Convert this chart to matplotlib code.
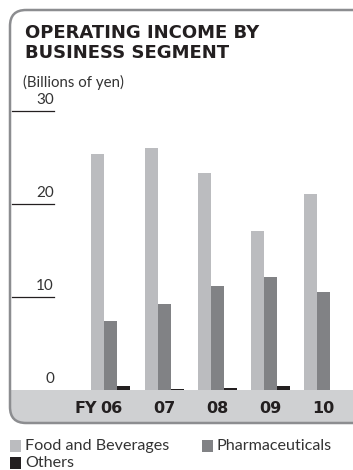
import numpy as np
import matplotlib.pyplot as plt
from matplotlib.patches import FancyBboxPatch, Rectangle

# Operating income by business segment (billions of yen)
anios = ["06", "07", "08", "09", "10"]
alimentos = [25.4, 26.0, 23.3, 17.1, 21.1]
farmaceuticos = [7.4, 9.3, 11.2, 12.1, 10.5]
otros = [0.4, 0.1, 0.2, 0.4, 0.05]
ticksY = [10, 20, 30]

colAlimentos = "#bbbcbf"
colFarma = "#818285"
colOtros = "#231f20"
colBanda = "#cfd0d2"
colMarco = "#8c8d90"
fuenteLigera = "Lato"

W, H = 353, 470
fig = plt.figure(figsize=(W / 100, H / 100), dpi=100)

# fondo en coordenadas de pixel: marco redondeado y banda inferior
fondo = fig.add_axes([0, 0, 1, 1])
fondo.set_xlim(0, W)
fondo.set_ylim(H, 0)
fondo.axis("off")
fondo.add_patch(FancyBboxPatch((10, 330), 400, 93, boxstyle="round,pad=0,rounding_size=16",
                               facecolor=colBanda, edgecolor="none", zorder=1))
fondo.add_patch(Rectangle((10, 10), 400, 380, facecolor="white", edgecolor="none", zorder=2))
fondo.add_patch(FancyBboxPatch((10, 10), 400, 413, boxstyle="round,pad=0,rounding_size=16",
                               facecolor="none", edgecolor=colMarco, linewidth=1.8, zorder=3))

fondo.text(25, 33, "OPERATING INCOME BY", fontsize=13, fontweight="bold", color="#231f20",
           va="center", ha="left", zorder=4)
fondo.text(25, 53, "BUSINESS SEGMENT", fontsize=13, fontweight="bold", color="#231f20",
           va="center", ha="left", zorder=4)
fondo.text(23, 82, "(Billions of yen)", fontsize=10.8, family=fuenteLigera, color="#333333",
           va="center", ha="left", zorder=4)

# grafico de barras
ax = fig.add_axes([12 / W, (H - 390) / H, 341 / W, (390 - 111) / H])
ax.patch.set_alpha(0)
for s in ax.spines.values():
    s.set_visible(False)
ax.set_xlim(-1.864, 4.558)
ax.set_ylim(0, 30)
ax.set_xticks([])
ax.set_yticks([])

x = np.arange(len(anios))
ancho = 0.245
ax.bar(x - ancho, alimentos, ancho, color=colAlimentos, align="center")
ax.bar(x, farmaceuticos, ancho, color=colFarma, align="center")
ax.bar(x + ancho, otros, ancho, color=colOtros, align="center")

# marcas del eje y con su etiqueta encima
tr = ax.get_yaxis_transform()
xt = (54 - 12) / 341
for v in ticksY:
    ax.plot([0, xt], [v, v], color="#231f20", linewidth=0.9, transform=tr, clip_on=False)
    ax.text(xt, v + 0.4, str(v), transform=tr, ha="right", va="bottom",
            fontsize=11, family=fuenteLigera, color="#333333")
ax.text(xt, 0.4, "0", transform=tr, ha="right", va="bottom",
        fontsize=11, family=fuenteLigera, color="#333333")

# etiquetas de los años en la banda
xtr = ax.get_xaxis_transform()
for i, a in enumerate(anios):
    ax.text(i, -0.065, a, transform=xtr, ha="center", va="center",
            fontsize=11.5, fontweight="bold", color="#231f20")
ax.text(-0.26, -0.065, "FY", transform=xtr, ha="right", va="center",
        fontsize=11.5, fontweight="bold", color="#231f20")

# leyenda
def cuadro(xp, yp, color, texto):
    fondo.add_patch(Rectangle((xp, yp - 6), 11, 12, facecolor=color, edgecolor="none"))
    fondo.text(xp + 15, yp, texto, fontsize=11.6, family=fuenteLigera, color="#333333",
               va="center", ha="left")

cuadro(10, 446, colAlimentos, "Food and Beverages")
cuadro(202, 446, colFarma, "Pharmaceuticals")
cuadro(10, 463, colOtros, "Others")

fig.savefig("out.png", dpi=100)
